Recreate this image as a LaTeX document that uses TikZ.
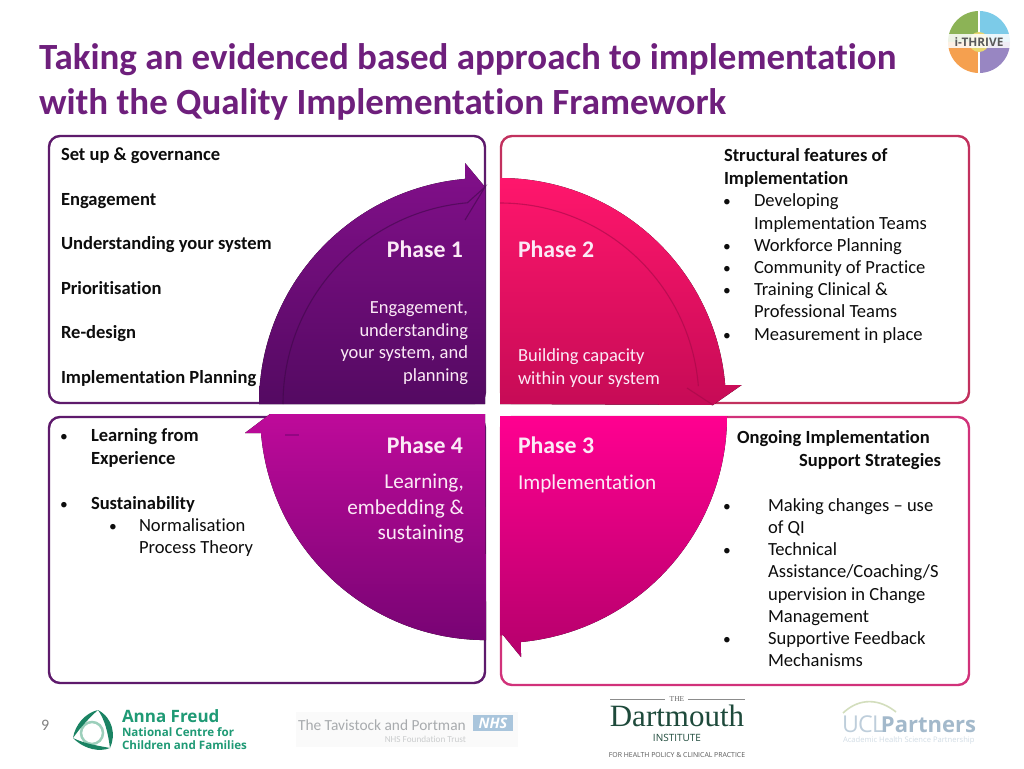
\documentclass[tikz,border=0pt]{standalone}
\usepackage{fontspec}
\setmainfont[Ligatures=NoCommon]{Carlito}
\newfontfamily\serifface{Liberation Serif}
\newfontfamily\logoface{Open Sans}
\definecolor{titlec}{HTML}{6E1F7C}
\definecolor{boxa}{HTML}{5E1B6C}
\definecolor{boxb}{HTML}{C2315E}
\definecolor{boxc}{HTML}{5E1A6C}
\definecolor{boxd}{HTML}{D1327A}
\definecolor{paleT}{HTML}{FBEAF6}
\definecolor{freud}{HTML}{1F9A75}
\definecolor{freudl}{HTML}{9CCFBB}
\definecolor{tavi}{HTML}{A8ABAE}
\definecolor{nhsc}{HTML}{A9C5DC}
\definecolor{dart}{HTML}{1E4A3B}
\definecolor{uclc}{HTML}{A3B9CB}
\definecolor{uclarc}{HTML}{D3DEBD}
\definecolor{ponet}{HTML}{820F8A}
\definecolor{poneb}{HTML}{540A62}
\definecolor{ptwot}{HTML}{FF166C}
\definecolor{ptwob}{HTML}{C60B56}
\definecolor{pthrt}{HTML}{FF0090}
\definecolor{pthrb}{HTML}{B5006C}
\definecolor{pfout}{HTML}{BE0A9A}
\definecolor{pfoub}{HTML}{780474}
\definecolor{thga}{HTML}{8CB356}
\definecolor{thgb}{HTML}{7CCBE8}
\definecolor{thgc}{HTML}{F5A04F}
\definecolor{thgd}{HTML}{9886C2}
\definecolor{thge}{HTML}{E8D870}
\tikzset{
  frame/.style={rounded corners=11pt,line width=2.4pt,fill=white},
  lbl/.style={anchor=base west,inner sep=0pt,outer sep=0pt,font=\fontsize{18.55}{22}\selectfont,text=black!95},
  blbl/.style={lbl,font=\fontsize{18.55}{22}\selectfont\bfseries},
  rlbl/.style={blbl,anchor=base east},
  phasehead/.style={lbl,font=\fontsize{23.8}{28}\selectfont\bfseries,text=paleT},
  phaseheadr/.style={phasehead,anchor=base east},
  phasetxt/.style={lbl,font=\fontsize{18.5}{22}\selectfont,text=paleT},
  phasetxtr/.style={phasetxt,anchor=base east},
  phasebig/.style={phasetxtr,font=\fontsize{21.2}{25}\selectfont},
  dotb/.style={lbl,anchor=base,font=\fontsize{15.5}{18}\selectfont},
  innerline/.style={line width=1.1pt,opacity=.55},
  titl/.style={lbl,font=\fontsize{36.95}{44}\selectfont\bfseries,text=titlec},
  leaf/.style={fill=freud!85!black},
}
\begin{document}
\begin{tikzpicture}[x=1pt,y=1pt]
\useasboundingbox (0,0) rectangle (1024,-768);
\fill[white] (0,0) rectangle (1024,-768);

% frames
\draw[frame,draw=boxa] (49,-136) rectangle (485,-403);
\draw[frame,draw=boxb] (501,-136) rectangle (969,-403);
\draw[frame,draw=boxc] (49,-417) rectangle (485,-683);
\draw[frame,draw=boxd] (501,-417) rectangle (969,-685);

% phase 1
\fill[top color=ponet,bottom color=poneb] (259,-404) arc[start angle=180,end angle=95,radius=226pt]
  -- (465,-163) -- (485,-187) -- (485,-404) -- cycle;
\draw[innerline,draw=poneb!70!black] (283,-404) arc[start angle=180,end angle=95,radius=202pt] -- (485,-187) -- (465,-220);
% phase 2
\fill[top color=ptwot,bottom color=ptwob] (500,-178) arc[start angle=90,end angle=4.8,radius=226pt]
  -- (741.7,-385) -- (713,-405) -- (500,-404) -- cycle;
\draw[innerline,draw=ptwob!80!black] (500,-203) arc[start angle=90,end angle=4.6,radius=199pt] (687,-388) -- (713,-405);
% phase 4
\fill[top color=pfout,bottom color=pfoub] (270,-414) -- (245,-433) -- (261,-433)
  arc[start angle=184.8,end angle=270,radius=226pt] -- (485,-414) -- cycle;
\draw[innerline,draw=pfoub] (285,-435) -- (299,-435);
% phase 3
\fill[top color=pthrt,bottom color=pthrb] (500,-416) -- (727,-416)
  arc[start angle=0,end angle=-84.7,radius=227pt] -- (521,-657) -- (503,-635) -- (500,-635) -- cycle;

% title
\node[titl] (t1) at (39,-70) {Taking an evidenced based approach to implementation};
\node[titl] (t2) at (39,-114) {with the Quality Implementation Framework};

% top-left box
\node[blbl] (a1) at (61,-160) {Set up \& governance};
\node[blbl] (a2) at (61,-205) {Engagement};
\node[blbl] (a3) at (61,-249) {Understanding your system};
\node[blbl] (a4) at (61,-294) {Prioritisation};
\node[blbl] (a5) at (61,-338) {Re-design};
\node[blbl] (a6) at (61,-383) {Implementation Planning};

% top-right box
\node[blbl] (b1) at (724,-161) {Structural features of};
\node[blbl] (b2) at (724,-184) {Implementation};
\foreach \n/\y in {1/206,2/251,3/273,4/295,5/340}{\node[dotb] (bd\n) at (727,-\y) {•};}
\node[lbl] (b3) at (754,-206) {Developing};
\node[lbl] (b4) at (754,-229) {Implementation Teams};
\node[lbl] (b5) at (754,-251) {Workforce Planning};
\node[lbl] (b6) at (754,-273) {Community of Practice};
\node[lbl] (b7) at (754,-295) {Training Clinical \&};
\node[lbl] (b8) at (754,-317) {Professional Teams};
\node[lbl] (b9) at (754,-340) {Measurement in place};

% bottom-left box
\node[dotb] (cd1) at (64,-441) {•};
\node[blbl] (c1) at (91,-441) {Learning from};
\node[blbl] (c2) at (91,-464) {Experience};
\node[dotb] (cd2) at (64,-509) {•};
\node[blbl] (c3) at (91,-509) {Sustainability};
\node[dotb] (cd3) at (113,-531) {•};
\node[lbl] (c4) at (139,-531) {Normalisation};
\node[lbl] (c5) at (139,-553) {Process Theory};

% bottom-right box
\node[blbl] (d1) at (737,-443) {Ongoing Implementation};
\node[rlbl] (d2) at (941,-466) {Support Strategies};
\foreach \n/\y in {1/511,2/555,3/644}{\node[dotb] (dd\n) at (727,-\y) {•};}
\node[lbl] (d3) at (768,-511) {Making changes – use};
\node[lbl] (d4) at (768,-533) {of QI};
\node[lbl] (d5) at (768,-555) {Technical};
\node[lbl] (d6) at (768,-577) {Assistance/Coaching/S};
\node[lbl] (d7) at (768,-600) {upervision in Change};
\node[lbl] (d8) at (768,-622) {Management};
\node[lbl] (d9) at (768,-644) {Supportive Feedback};
\node[lbl] (d10) at (768,-666) {Mechanisms};

% phase labels
\node[phaseheadr] (p1) at (463,-257) {Phase 1};
\node[phasetxtr] (p1a) at (468,-313) {Engagement,};
\node[phasetxtr] (p1b) at (468,-336) {understanding};
\node[phasetxtr] (p1c) at (468,-358) {your system, and};
\node[phasetxtr] (p1d) at (468,-381) {planning};
\node[phasehead] (p2) at (518,-257) {Phase 2};
\node[phasetxt] (p2a) at (518,-361) {Building capacity};
\node[phasetxt] (p2b) at (518,-384) {within your system};
\node[phaseheadr] (p4) at (463,-453) {Phase 4};
\node[phasebig] (p4a) at (464,-488) {Learning,};
\node[phasebig] (p4b) at (464,-514) {embedding \&};
\node[phasebig] (p4c) at (464,-539) {sustaining};
\node[phasehead] (p3) at (518,-453) {Phase 3};
\node[phasebig,anchor=base west] (p3a) at (518,-489) {Implementation};

% page number
\node[lbl,text=black!50,font=\fontsize{16}{18}\selectfont] (pg) at (41,-730) {9};

% Anna Freud logo
\draw[freudl,line width=2.5pt] (92,-733) circle[radius=11pt];
\fill[leaf] (98,-710) .. controls (113,-718) and (116,-735) .. (110,-748) .. controls (108,-733) and (105,-720) .. (98,-710) -- cycle;
\fill[leaf] (98,-710) .. controls (85,-713) and (75,-725) .. (73,-738) .. controls (80,-728) and (89,-718) .. (98,-710) -- cycle;
\fill[leaf] (73,-738) .. controls (85,-750) and (100,-752) .. (110,-748) .. controls (100,-746) and (85,-744) .. (73,-738) -- cycle;
\node[lbl,font=\logoface\fontsize{17}{20}\selectfont\bfseries,text=freud] (f1) at (122,-722) {Anna Freud};
\node[lbl,font=\logoface\fontsize{11.6}{14}\selectfont\bfseries,text=freud] (f2) at (122,-736) {National Centre for};
\node[lbl,font=\logoface\fontsize{11.6}{14}\selectfont\bfseries,text=freud] (f3) at (122,-749) {Children and Families};

% Tavistock logo
\fill[black!2] (296,-712) rectangle (518,-747);
\node[lbl,font=\fontsize{15.4}{18}\selectfont,text=tavi] (v1) at (298,-730) {The Tavistock and Portman};
\node[lbl,anchor=base east,font=\fontsize{9.2}{11}\selectfont,text=tavi!60] (v2) at (466,-742) {NHS Foundation Trust};
\node[fill=nhsc,text=white,inner sep=0pt,minimum width=40pt,minimum height=16pt,font=\logoface\fontsize{14.5}{15}\selectfont\bfseries\itshape] (v3) at (493,-723) {NHS};

% Dartmouth logo
\node[lbl,anchor=base,font=\serifface\fontsize{7.5}{9}\selectfont,text=black!60] (m0) at (677,-701.5) {THE};
\coordinate (ml1) at (610,-699); \coordinate (ml2) at (665,-699);
\coordinate (ml3) at (688,-699); \coordinate (ml4) at (745,-699);
\draw[black!45,line width=.5pt] (ml1) -- (ml2) (ml3) -- (ml4);
\node[lbl,anchor=base,font=\serifface\fontsize{31}{34}\selectfont,text=dart] (m1) at (677,-726) {Dartmouth};
\node[lbl,anchor=base,font=\logoface\fontsize{10}{12}\selectfont,text=dart] (m2) at (677,-741) {INSTITUTE};
\node[lbl,anchor=base,font=\logoface\fontsize{6.9}{8}\selectfont,text=black!65] (m3) at (677,-757) {FOR HEALTH POLICY \& CLINICAL PRACTICE};

% UCLPartners logo
\draw[line width=1.6pt,draw=uclarc] (843,-713) .. controls (860,-697) and (880,-699) .. (896,-712);
\node[lbl,font=\logoface\fontsize{23.2}{26}\selectfont\addfontfeature{LetterSpace=-3},text=uclc!70] (u1) at (842,-732) {UCL};
\node[lbl,anchor=base east,font=\logoface\fontsize{22}{26}\selectfont\bfseries,text=uclc] (u2) at (976,-732) {Partners};
\node[lbl,font=\logoface\fontsize{7.6}{9}\selectfont,text=uclc!50] (u3) at (843,-742) {Academic Health Science Partnership};

% i-THRIVE logo
\coordinate (thc) at (979,-42);
\fill[thga] (thc) -- ++(-31,0) arc[start angle=180,end angle=90,radius=31pt] -- cycle;
\fill[thgb] (thc) -- ++(0,31) arc[start angle=90,end angle=0,radius=31pt] -- cycle;
\fill[thgd] (thc) -- ++(31,0) arc[start angle=0,end angle=-90,radius=31pt] -- cycle;
\fill[thgc] (thc) -- ++(0,-31) arc[start angle=270,end angle=180,radius=31pt] -- cycle;
\draw[white,line width=1.2pt] (979,-11) -- (979,-73);
\fill[thge] (thc) circle[radius=10pt];
\fill[white,opacity=.85] (947,-34) rectangle (1011,-48);
\node[lbl,anchor=base,font=\logoface\fontsize{11.8}{14}\selectfont\bfseries,text=black!65] (th) at (979,-46) {i-THRIVE};
\end{tikzpicture}
\end{document}
